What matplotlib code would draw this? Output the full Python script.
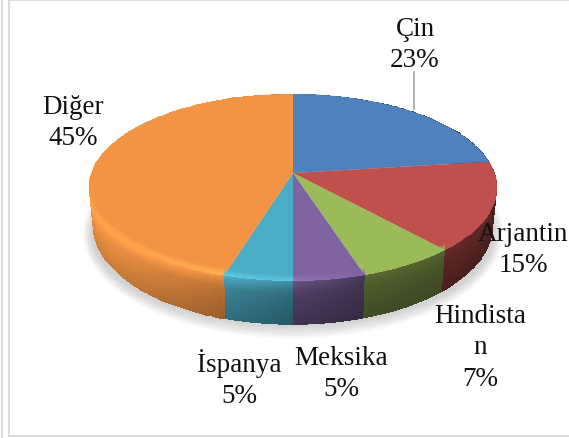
import numpy as np
import matplotlib
matplotlib.use('Agg')
import matplotlib.pyplot as plt
from matplotlib.path import Path
from matplotlib.patches import Ellipse
from matplotlib.transforms import Affine2D, Transform

names = ['Çin', 'Arjantin', 'Hindista\nn', 'Meksika', 'İspanya', 'Diğer']
percents = [23, 15, 7, 5, 5, 45]
# slice sizes as measured on the picture, they differ a bit from the printed labels
shares = [23, 15.4, 6.7, 4.9, 4.7, 45.3]
colors = ['#4F81BD', '#C0504D', '#9BBB59', '#8064A2', '#4BACC6', '#F29444']
label_pos = [(415, 45), (523, 250), (480, 348), (341, 374), (239, 379), (73, 123)]

plt.rcParams['font.family'] = ['Liberation Serif', 'DejaVu Sans']

# flat disc seen from the front, the far side is smaller
cx, cy = 293, 174
p = 0.155
a0, c0 = 201.6, 91.25


def project(u, v):
    w = 1 / (1 + p * v)
    return cx + a0 * u * w, cy - c0 * v * w


class Tilt(Transform):
    input_dims = 2
    output_dims = 2

    def transform_non_affine(self, values):
        values = np.asarray(values, dtype=float)
        x, y = project(values[:, 0], values[:, 1])
        return np.column_stack([x, y])

    def transform_path_non_affine(self, path):
        # flatten the bezier arcs first, then bend the polygon
        polys = path.transformed(Affine2D().scale(2000)).to_polygons(closed_only=True)
        pts = polys[0] / 2000
        return Path(self.transform_non_affine(pts), closed=True)


fig = plt.figure(figsize=(5.69, 4.39), dpi=100)
ax = fig.add_axes([0, 0, 1, 1])

wedges, _ = ax.pie(shares, colors=colors, startangle=90, counterclock=False,
                   wedgeprops={'linewidth': 0})
tilt = Tilt()
for wd in wedges:
    wd.set_transform(tilt + ax.transData)
    wd.set_zorder(5)

# side wall
for wd, col in zip(wedges, colors):
    rgb = np.array(matplotlib.colors.to_rgb(col))
    t = np.radians(np.linspace(wd.theta1, wd.theta2, 90))
    h = np.linspace(0, 1, 31)
    sx, sy = project(np.cos(t), np.sin(t))
    w = 1 / (1 + p * np.sin(t))
    X = cx + np.outer(sx - cx, 1 - 0.02 * h)
    Y = np.outer(sy, np.ones(len(h))) + np.outer(37 * w, h)
    xc = (sx[:-1] + sx[1:]) / 2
    hc = (h[:-1] + h[1:]) / 2
    bright = np.interp(xc, [89, 225, 293, 370, 497], [0.98, 0.72, 0.58, 0.46, 0.42])
    glow = np.interp(xc, [89, 225, 293, 360], [0.06, 0.2, 0.18, 0.0])
    C = np.zeros((len(xc), len(hc), 3))
    for i in range(len(xc)):
        fall = np.interp(hc, [0, 0.3, 0.5, 1], [1 + 0.1 / bright[i] + glow[i], 1.05, 1, 0.88])
        for k in range(3):
            C[i, :, k] = np.clip(rgb[k] * bright[i] * fall + glow[i] * 0.2 * np.exp(-hc / 0.12), 0, 1)
    ax.pcolormesh(X, Y, C, shading='flat', zorder=4)

    # soft rounded edge on top of the disc, front part only
    front = np.sin(t) < 0.05
    if front.sum() > 2:
        hb = np.linspace(-0.16, 0, 9)
        Xb = np.outer(sx[front], np.ones(len(hb)))
        Yb = np.outer(sy[front], np.ones(len(hb))) + np.outer(37 * w[front], hb)
        xb = (sx[front][:-1] + sx[front][1:]) / 2
        tb = (t[front][:-1] + t[front][1:]) / 2
        hbc = (hb[:-1] + hb[1:]) / 2
        gb = np.interp(xb, [89, 225, 293, 360], [0.04, 0.14, 0.12, 0.0])
        Cb = np.zeros((len(xb), len(hbc), 4))
        for k in range(3):
            Cb[:, :, k] = np.clip(rgb[k] * (1 + gb[:, None]) + gb[:, None] * 0.2, 0, 1)
        Cb[:, :, 3] = np.outer(np.clip(-np.sin(tb) * 2, 0, 1), 1 + hbc / 0.16)
        ax.pcolormesh(Xb, Yb, Cb, shading='flat', zorder=6)

# soft shadow under the pie
for g in range(10):
    ax.add_patch(Ellipse((293, 234), 2 * (201 + g), 2 * (93 + 1.4 * g), color='#808080',
                         alpha=0.04, lw=0, zorder=3))

# frame
for xs, ys in [([2, 2], [0, 439]), ([9, 9], [1, 437]), ([9, 569], [1, 1]), ([9, 569], [437.5, 437.5])]:
    ax.plot(xs, ys, color='#DADADA', lw=1.3, zorder=2)

ax.plot([414.5, 414.5], [73, 110], color='#A6A6A6', lw=1.2, zorder=4)

for name, val, pos in zip(names, percents, label_pos):
    ax.text(pos[0], pos[1], f'{name}\n{val}%', ha='center', va='center', fontsize=19.5,
            color='#111111', linespacing=1.36, zorder=8)

ax.set_aspect('auto')
ax.set_xlim(0, 569)
ax.set_ylim(439, 0)
ax.axis('off')
fig.savefig('out.png', dpi=100)
